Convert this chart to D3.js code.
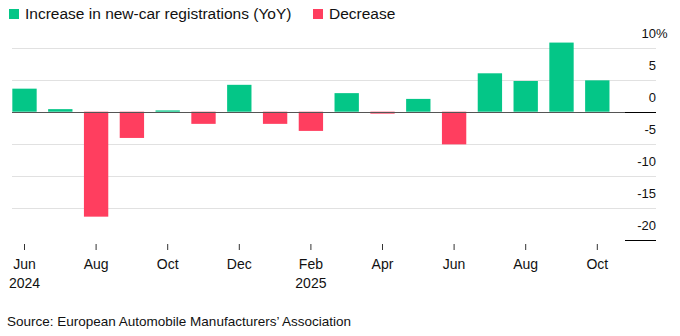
<!DOCTYPE html>
<html>
<head>
<meta charset="utf-8">
<script src="https://cdn.jsdelivr.net/npm/d3@7"></script>
<style>
  body { margin: 0; background: #fff; }
  svg { display: block; font-family: "Liberation Sans", Arial, sans-serif; }
</style>
</head>
<body>
<div id="chart"></div>
<script>
// monthly new-car registrations, % change YoY
const months = ["Jun 2024", "Jul 2024", "Aug 2024", "Sep 2024", "Oct 2024", "Nov 2024",
  "Dec 2024", "Jan 2025", "Feb 2025", "Mar 2025", "Apr 2025", "May 2025",
  "Jun 2025", "Jul 2025", "Aug 2025", "Sep 2025", "Oct 2025"];
const changes = [3.6, 0.4, -16.4, -4.1, 0.2, -1.9, 4.2, -1.9, -3.0, 2.9, -0.3, 2.0,
  -5.1, 6.0, 4.8, 10.8, 4.9];
const yTicks = [10, 5, 0, -5, -10, -15, -20];
const xTicks = ["Jun 2024", "Aug 2024", "Oct 2024", "Dec 2024", "Feb 2025", "Apr 2025",
  "Jun 2025", "Aug 2025", "Oct 2025"];
const yearTicks = ["Jun 2024", "Feb 2025"];
const legendItems = ["Increase in new-car registrations (YoY)", "Decrease"];

const green = "#04c687";
const red = "#ff3e5f";

const width = 680, height = 336;
const svg = d3.select("#chart").append("svg")
  .attr("width", width)
  .attr("height", height);

// scales
const x = d3.scaleBand()
  .domain(months)
  .range([6.6, 615.2])
  .paddingInner(0.32)
  .paddingOuter(0.16);

const y = d3.scaleLinear()
  .domain([-20, 10])
  .range([239.7, 47.7]);

const gridLeft = 12, gridRight = 656;

// gridlines
svg.append("g")
  .selectAll("line")
  .data(yTicks.filter(d => d !== 0 && d !== -20))
  .join("line")
  .attr("x1", gridLeft)
  .attr("x2", gridRight)
  .attr("y1", d => Math.round(y(d)) + 0.5)
  .attr("y2", d => Math.round(y(d)) + 0.5)
  .attr("stroke", "#e1e1e1");

// bars
svg.append("g")
  .selectAll("rect")
  .data(months.map((m, i) => ({ month: m, value: changes[i] })))
  .join("rect")
  .attr("x", d => x(d.month))
  .attr("width", x.bandwidth())
  .attr("y", d => y(Math.max(0, d.value)))
  .attr("height", d => Math.abs(y(d.value) - y(0)))
  .attr("fill", d => d.value >= 0 ? green : red);

// zero line
svg.append("line")
  .attr("x1", gridLeft)
  .attr("x2", gridRight)
  .attr("y1", Math.round(y(0)) + 0.5)
  .attr("y2", Math.round(y(0)) + 0.5)
  .attr("stroke", "#555");

// short black marks under 0 and -20 labels
svg.append("g")
  .selectAll("line")
  .data([0, -20])
  .join("line")
  .attr("x1", 625)
  .attr("x2", gridRight)
  .attr("y1", d => Math.round(y(d)) + 0.5)
  .attr("y2", d => Math.round(y(d)) + 0.5)
  .attr("stroke", "#000");

// y labels (right side, above gridlines)
const yLab = svg.append("g")
  .selectAll("text")
  .data(yTicks)
  .join("text")
  .attr("x", gridRight)
  .attr("y", d => y(d) - 10)
  .attr("text-anchor", "end")
  .attr("font-size", 13)
  .attr("fill", "#111")
  .text(d => d);

// the % sign hangs past the right edge of the numbers
yLab.filter(d => d === 10)
  .attr("text-anchor", "start")
  .attr("x", gridRight - 14.5)
  .append("tspan")
  .text("%");

// x ticks
const xg = svg.append("g");
xg.selectAll("line")
  .data(xTicks)
  .join("line")
  .attr("x1", d => x(d) + x.bandwidth() / 2)
  .attr("x2", d => x(d) + x.bandwidth() / 2)
  .attr("y1", 244)
  .attr("y2", 250)
  .attr("stroke", "#333");

xg.selectAll("text.month")
  .data(xTicks)
  .join("text")
  .attr("class", "month")
  .attr("x", d => x(d) + x.bandwidth() / 2)
  .attr("y", 269)
  .attr("text-anchor", "middle")
  .attr("font-size", 14)
  .attr("fill", "#111")
  .text(d => d.split(" ")[0]);

xg.selectAll("text.year")
  .data(yearTicks)
  .join("text")
  .attr("class", "year")
  .attr("x", d => x(d) + x.bandwidth() / 2)
  .attr("y", 288)
  .attr("text-anchor", "middle")
  .attr("font-size", 14)
  .attr("fill", "#111")
  .text(d => d.split(" ")[1]);

// legend
const legendX = [9, 313];
const lg = svg.append("g")
  .selectAll("g")
  .data(legendItems)
  .join("g")
  .attr("transform", (d, i) => `translate(${legendX[i]},0)`);
lg.append("rect")
  .attr("x", 0)
  .attr("y", 9)
  .attr("width", 10)
  .attr("height", 10)
  .attr("fill", (d, i) => i === 0 ? green : red);
lg.append("text")
  .attr("x", 16)
  .attr("y", 19)
  .attr("font-size", 15.5)
  .attr("fill", "#111")
  .text(d => d);

// source
svg.append("text")
  .attr("x", 7)
  .attr("y", 326)
  .attr("font-size", 13.5)
  .attr("fill", "#111")
  .text("Source: European Automobile Manufacturers\u2019 Association");
</script>
</body>
</html>
